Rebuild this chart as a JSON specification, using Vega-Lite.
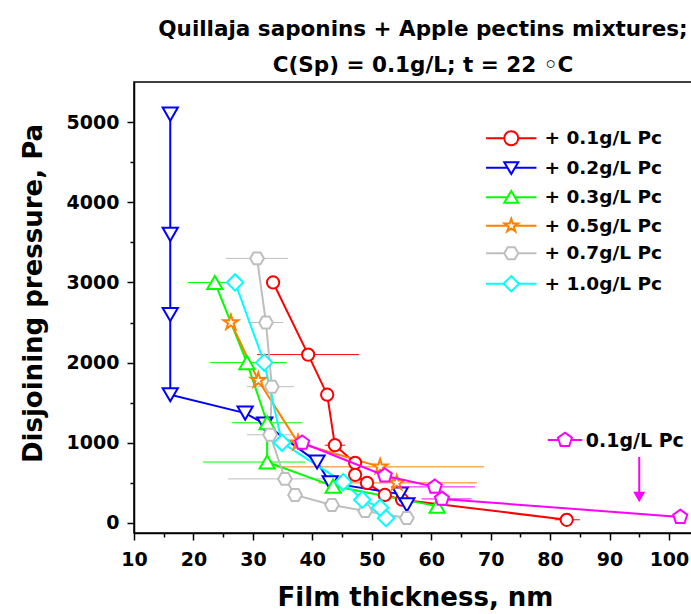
{
  "$schema": "https://vega.github.io/schema/vega-lite/v6.json",
  "autosize": {"type": "none"},
  "padding": {"left": 134, "top": 82, "right": -5, "bottom": 81},
  "width": 562,
  "height": 451,
  "background": "white",
  "title": {
    "text": ["Quillaja saponins + Apple pectins mixtures;", "C(Sp) = 0.1g/L; t = 22 ◦C"],
    "font": "DejaVu Sans", "fontSize": 21.5, "fontWeight": "bold", "color": "black",
    "anchor": "middle", "frame": "group", "baseline": "bottom", "lineHeight": 36, "offset": -16, "dx": 8
  },
  "config": {
    "view": {"stroke": "black", "strokeWidth": 1.5},
    "axis": {
      "labelFont": "DejaVu Sans", "labelFontWeight": "bold", "labelFontSize": 19, "labelColor": "black",
      "titleFont": "DejaVu Sans", "titleFontWeight": "bold", "titleFontSize": 26, "titleColor": "black",
      "domainColor": "black", "domainWidth": 1.5, "tickColor": "black", "tickWidth": 1.5, "grid": false,
      "labelOverlap": false, "labelFlush": false
    }
  },
  "datasets": {
    "main": [
      {"s": "+ 0.1g/L Pc", "i": 1, "x": 33.4, "y": 3000},
      {"s": "+ 0.1g/L Pc", "i": 2, "x": 39.3, "y": 2100, "xlo": 30.7, "xhi": 47.9},
      {"s": "+ 0.1g/L Pc", "i": 3, "x": 42.5, "y": 1600},
      {"s": "+ 0.1g/L Pc", "i": 4, "x": 43.8, "y": 970, "xlo": 42.1, "xhi": 45.5},
      {"s": "+ 0.1g/L Pc", "i": 5, "x": 47.2, "y": 750},
      {"s": "+ 0.1g/L Pc", "i": 6, "x": 47.2, "y": 600},
      {"s": "+ 0.1g/L Pc", "i": 7, "x": 49.2, "y": 500},
      {"s": "+ 0.1g/L Pc", "i": 8, "x": 52.2, "y": 350},
      {"s": "+ 0.1g/L Pc", "i": 9, "x": 55.1, "y": 290},
      {"s": "+ 0.1g/L Pc", "i": 10, "x": 82.8, "y": 40, "xlo": 80.8, "xhi": 85.0},
      {"s": "+ 0.2g/L Pc", "i": 1, "x": 16.1, "y": 5100},
      {"s": "+ 0.2g/L Pc", "i": 2, "x": 16.1, "y": 3600},
      {"s": "+ 0.2g/L Pc", "i": 3, "x": 16.1, "y": 2600},
      {"s": "+ 0.2g/L Pc", "i": 4, "x": 16.1, "y": 1600},
      {"s": "+ 0.2g/L Pc", "i": 5, "x": 28.7, "y": 1370},
      {"s": "+ 0.2g/L Pc", "i": 6, "x": 32.0, "y": 1235},
      {"s": "+ 0.2g/L Pc", "i": 7, "x": 40.8, "y": 760},
      {"s": "+ 0.2g/L Pc", "i": 8, "x": 43.0, "y": 500},
      {"s": "+ 0.2g/L Pc", "i": 9, "x": 54.8, "y": 360},
      {"s": "+ 0.2g/L Pc", "i": 10, "x": 55.9, "y": 225},
      {"s": "+ 0.3g/L Pc", "i": 1, "x": 23.6, "y": 3000, "xlo": 19.1, "xhi": 28.3},
      {"s": "+ 0.3g/L Pc", "i": 2, "x": 29.0, "y": 2000, "xlo": 22.8, "xhi": 35.7},
      {"s": "+ 0.3g/L Pc", "i": 3, "x": 32.4, "y": 1250, "xlo": 26.5, "xhi": 38.3},
      {"s": "+ 0.3g/L Pc", "i": 4, "x": 32.4, "y": 760, "xlo": 21.6, "xhi": 38.8},
      {"s": "+ 0.3g/L Pc", "i": 5, "x": 43.5, "y": 460},
      {"s": "+ 0.3g/L Pc", "i": 6, "x": 61.0, "y": 210},
      {"s": "+ 0.5g/L Pc", "i": 1, "x": 26.3, "y": 2500},
      {"s": "+ 0.5g/L Pc", "i": 2, "x": 30.9, "y": 1780},
      {"s": "+ 0.5g/L Pc", "i": 3, "x": 37.6, "y": 1000},
      {"s": "+ 0.5g/L Pc", "i": 4, "x": 51.4, "y": 700, "xlo": 33.7, "xhi": 68.9},
      {"s": "+ 0.5g/L Pc", "i": 5, "x": 54.2, "y": 500, "xlo": 41.0, "xhi": 67.7},
      {"s": "+ 0.7g/L Pc", "i": 1, "x": 30.7, "y": 3300, "xlo": 25.5, "xhi": 35.9},
      {"s": "+ 0.7g/L Pc", "i": 2, "x": 32.2, "y": 2500, "xlo": 29.2, "xhi": 35.1},
      {"s": "+ 0.7g/L Pc", "i": 3, "x": 33.2, "y": 1700, "xlo": 29.0, "xhi": 36.9},
      {"s": "+ 0.7g/L Pc", "i": 4, "x": 32.9, "y": 1100, "xlo": 29.0, "xhi": 36.7},
      {"s": "+ 0.7g/L Pc", "i": 5, "x": 35.4, "y": 550, "xlo": 25.8, "xhi": 45.0},
      {"s": "+ 0.7g/L Pc", "i": 6, "x": 37.1, "y": 350},
      {"s": "+ 0.7g/L Pc", "i": 7, "x": 43.3, "y": 225},
      {"s": "+ 0.7g/L Pc", "i": 8, "x": 48.9, "y": 150},
      {"s": "+ 0.7g/L Pc", "i": 9, "x": 55.9, "y": 62},
      {"s": "+ 1.0g/L Pc", "i": 1, "x": 27.0, "y": 3000},
      {"s": "+ 1.0g/L Pc", "i": 2, "x": 31.9, "y": 2000},
      {"s": "+ 1.0g/L Pc", "i": 3, "x": 34.9, "y": 1000},
      {"s": "+ 1.0g/L Pc", "i": 4, "x": 45.2, "y": 510},
      {"s": "+ 1.0g/L Pc", "i": 5, "x": 48.4, "y": 290},
      {"s": "+ 1.0g/L Pc", "i": 6, "x": 51.4, "y": 190},
      {"s": "+ 1.0g/L Pc", "i": 7, "x": 52.4, "y": 60}
    ],
    "legendrows": [
      {"s": "+ 0.1g/L Pc"},
      {"s": "+ 0.2g/L Pc"},
      {"s": "+ 0.3g/L Pc"},
      {"s": "+ 0.5g/L Pc"},
      {"s": "+ 0.7g/L Pc"},
      {"s": "+ 1.0g/L Pc"}
    ],
    "pink": [
      {"i": 1, "x": 38.3, "y": 1000},
      {"i": 2, "x": 52.2, "y": 590},
      {"i": 3, "x": 60.6, "y": 450, "xlo": 54.2, "xhi": 67.4},
      {"i": 4, "x": 61.8, "y": 300, "xlo": 58.4, "xhi": 66.8},
      {"i": 5, "x": 101.9, "y": 75}
    ],
    "annoline": [
      {"x": 79.6, "y": 1035},
      {"x": 85.4, "y": 1035}
    ],
    "annopoint": [
      {"x": 82.5, "y": 1035}
    ],
    "annotext": [
      {"x": 86.0, "y": 1022, "label": "0.1g/L Pc"}
    ],
    "arrowhead": [
      {"x": 95.0, "y": 324}
    ],
    "arrow": [
      {"x": 95.0, "y": 823, "y2": 380}
    ]
  },
  "layer": [
    {
      "layer": [
        {
          "data": {"name": "main"},
          "transform": [{"filter": "isValid(datum.xlo)"}],
          "mark": {"type": "rule", "strokeWidth": 1},
          "encoding": {
            "x": {"field": "xlo", "type": "quantitative", "scale": {"domain": [10, 104.55], "nice": false, "zero": false},
                  "axis": {"values": [10, 20, 30, 40, 50, 60, 70, 80, 90, 100], "tickSize": 7, "labelPadding": 10, "title": "Film thickness, nm", "titleY": 72, "titleBaseline": "alphabetic"}},
            "x2": {"field": "xhi"},
            "y": {"field": "y", "type": "quantitative", "scale": {"domain": [-125, 5500], "nice": false, "zero": false},
                  "axis": {"values": [0, 1000, 2000, 3000, 4000, 5000], "format": "d", "tickSize": 7, "labelPadding": 8, "title": "Disjoining pressure, Pa", "titleX": -93, "titleY": 211, "titleBaseline": "alphabetic"}},
            "color": {"field": "s", "type": "nominal",
                      "scale": {"domain": ["+ 0.1g/L Pc", "+ 0.2g/L Pc", "+ 0.3g/L Pc", "+ 0.5g/L Pc", "+ 0.7g/L Pc", "+ 1.0g/L Pc"],
                                "range": ["#FF0000", "#0000FF", "#00FF00", "#FF8000", "#BEBEBE", "#00FFFF"]}}
          }
        },
        {
          "data": {"name": "main"},
          "mark": {"type": "line", "strokeWidth": 2},
          "encoding": {
            "x": {"field": "x", "type": "quantitative", "scale": {"domain": [10, 104.55], "nice": false, "zero": false},
                  "axis": {"values": [10, 20, 30, 40, 50, 60, 70, 80, 90, 100], "tickSize": 7, "labelPadding": 10, "title": "Film thickness, nm", "titleY": 72, "titleBaseline": "alphabetic"}},
            "y": {"field": "y", "type": "quantitative", "scale": {"domain": [-125, 5500], "nice": false, "zero": false},
                  "axis": {"values": [0, 1000, 2000, 3000, 4000, 5000], "format": "d", "tickSize": 7, "labelPadding": 8, "title": "Disjoining pressure, Pa", "titleX": -93, "titleY": 211, "titleBaseline": "alphabetic"}},
            "color": {"field": "s", "type": "nominal"},
            "order": {"field": "i", "type": "quantitative"}
          }
        },
        {
          "data": {"name": "main"},
          "mark": {"type": "point", "filled": false, "fill": "white", "strokeWidth": 2, "opacity": 1,
                   "shape": {"expr": "datum.s === '+ 0.1g/L Pc' ? 'circle' : datum.s === '+ 0.2g/L Pc' ? 'triangle-down' : datum.s === '+ 0.3g/L Pc' ? 'triangle-up' : datum.s === '+ 0.5g/L Pc' ? 'M0,-1L0.223,-0.307L0.951,-0.309L0.361,0.117L0.588,0.809L0,0.38L-0.588,0.809L-0.361,0.117L-0.951,-0.309L-0.223,-0.307Z' : datum.s === '+ 0.7g/L Pc' ? 'M-1,0L-0.5,-0.866L0.5,-0.866L1,0L0.5,0.866L-0.5,0.866Z' : 'diamond'"},
                   "size": {"expr": "datum.s === '+ 0.1g/L Pc' ? 150 : datum.s === '+ 0.2g/L Pc' ? 230 : datum.s === '+ 0.3g/L Pc' ? 230 : datum.s === '+ 0.5g/L Pc' ? 240 : datum.s === '+ 0.7g/L Pc' ? 190 : 270"}},
          "encoding": {
            "x": {"field": "x", "type": "quantitative", "scale": {"domain": [10, 104.55], "nice": false, "zero": false},
                  "axis": {"values": [10, 20, 30, 40, 50, 60, 70, 80, 90, 100], "tickSize": 7, "labelPadding": 10, "title": "Film thickness, nm", "titleY": 72, "titleBaseline": "alphabetic"}},
            "y": {"field": "y", "type": "quantitative", "scale": {"domain": [-125, 5500], "nice": false, "zero": false},
                  "axis": {"values": [0, 1000, 2000, 3000, 4000, 5000], "format": "d", "tickSize": 7, "labelPadding": 8, "title": "Disjoining pressure, Pa", "titleX": -93, "titleY": 211, "titleBaseline": "alphabetic"}},
            "color": {"field": "s", "type": "nominal"}
          }
        },
        {
          "data": {"name": "legendrows"},
          "mark": {"type": "point", "filled": false, "strokeWidth": 2, "opacity": 0},
          "encoding": {
            "color": {"field": "s", "type": "nominal",
                      "legend": {"title": null, "orient": "none", "legendX": 368, "legendY": 47, "padding": 0,
                                 "symbolSize": 196, "labelOffset": 24, "rowPadding": 7.5,
                                 "labelFont": "DejaVu Sans", "labelFontSize": 18.5, "labelFontWeight": "bold", "labelColor": "black", "labelLimit": 0,
                                 "symbolStrokeWidth": 2, "symbolFillColor": "white", "symbolOpacity": 1}},
            "shape": {"field": "s", "type": "nominal",
                      "scale": {"domain": ["+ 0.1g/L Pc", "+ 0.2g/L Pc", "+ 0.3g/L Pc", "+ 0.5g/L Pc", "+ 0.7g/L Pc", "+ 1.0g/L Pc"],
                                "range": ["M-3.6,0H-1M1,0H3.6M1,0A1,1,0,1,1,-1,0A1,1,0,1,1,1,0Z",
                                          "M-3.6,0H-0.5M0.5,0H3.6M-1,-0.8L1,-0.8L0,0.9Z",
                                          "M-3.6,0H-0.55M0.55,0H3.6M0,-0.9L1,0.8L-1,0.8Z",
                                          "M-3.6,0H-0.52M0.52,0H3.6M0,-1L0.223,-0.307L0.951,-0.309L0.361,0.117L0.588,0.809L0,0.38L-0.588,0.809L-0.361,0.117L-0.951,-0.309L-0.223,-0.307Z",
                                          "M-3.6,0H-1M1,0H3.6M-1,0L-0.5,-0.866L0.5,-0.866L1,0L0.5,0.866L-0.5,0.866Z",
                                          "M-3.6,0H-1.1M1.1,0H3.6M-1.1,0L0,-1.1L1.1,0L0,1.1Z"]},
                      "legend": {"title": null, "orient": "none", "legendX": 368, "legendY": 47, "padding": 0,
                                 "symbolSize": 196, "labelOffset": 24, "rowPadding": 7.5,
                                 "labelFont": "DejaVu Sans", "labelFontSize": 18.5, "labelFontWeight": "bold", "labelColor": "black", "labelLimit": 0,
                                 "symbolStrokeWidth": 2, "symbolFillColor": "white", "symbolOpacity": 1}}
          }
        },
        {
          "data": {"name": "pink"},
          "transform": [{"filter": "isValid(datum.xlo)"}],
          "mark": {"type": "rule", "strokeWidth": 1, "color": "#FF00FF"},
          "encoding": {
            "x": {"field": "xlo", "type": "quantitative", "scale": {"domain": [10, 104.55], "nice": false, "zero": false},
                  "axis": {"values": [10, 20, 30, 40, 50, 60, 70, 80, 90, 100], "tickSize": 7, "labelPadding": 10, "title": "Film thickness, nm", "titleY": 72, "titleBaseline": "alphabetic"}},
            "x2": {"field": "xhi"},
            "y": {"field": "y", "type": "quantitative", "scale": {"domain": [-125, 5500], "nice": false, "zero": false},
                  "axis": {"values": [0, 1000, 2000, 3000, 4000, 5000], "format": "d", "tickSize": 7, "labelPadding": 8, "title": "Disjoining pressure, Pa", "titleX": -93, "titleY": 211, "titleBaseline": "alphabetic"}}
          }
        },
        {
          "data": {"name": "pink"},
          "mark": {"type": "line", "strokeWidth": 2, "color": "#FF00FF"},
          "encoding": {
            "x": {"field": "x", "type": "quantitative", "scale": {"domain": [10, 104.55], "nice": false, "zero": false},
                  "axis": {"values": [10, 20, 30, 40, 50, 60, 70, 80, 90, 100], "tickSize": 7, "labelPadding": 10, "title": "Film thickness, nm", "titleY": 72, "titleBaseline": "alphabetic"}},
            "y": {"field": "y", "type": "quantitative", "scale": {"domain": [-125, 5500], "nice": false, "zero": false},
                  "axis": {"values": [0, 1000, 2000, 3000, 4000, 5000], "format": "d", "tickSize": 7, "labelPadding": 8, "title": "Disjoining pressure, Pa", "titleX": -93, "titleY": 211, "titleBaseline": "alphabetic"}},
            "order": {"field": "i", "type": "quantitative"}
          }
        },
        {
          "data": {"name": "pink"},
          "mark": {"type": "point", "filled": false, "fill": "white", "stroke": "#FF00FF", "strokeWidth": 2, "opacity": 1, "size": 216,
                   "shape": "M0,-1L0.951,-0.309L0.588,0.809L-0.588,0.809L-0.951,-0.309Z"},
          "encoding": {
            "x": {"field": "x", "type": "quantitative", "scale": {"domain": [10, 104.55], "nice": false, "zero": false},
                  "axis": {"values": [10, 20, 30, 40, 50, 60, 70, 80, 90, 100], "tickSize": 7, "labelPadding": 10, "title": "Film thickness, nm", "titleY": 72, "titleBaseline": "alphabetic"}},
            "y": {"field": "y", "type": "quantitative", "scale": {"domain": [-125, 5500], "nice": false, "zero": false},
                  "axis": {"values": [0, 1000, 2000, 3000, 4000, 5000], "format": "d", "tickSize": 7, "labelPadding": 8, "title": "Disjoining pressure, Pa", "titleX": -93, "titleY": 211, "titleBaseline": "alphabetic"}}
          }
        },
        {
          "data": {"name": "annoline"},
          "mark": {"type": "line", "strokeWidth": 2, "color": "#FF00FF"},
          "encoding": {
            "x": {"field": "x", "type": "quantitative", "scale": {"domain": [10, 104.55], "nice": false, "zero": false},
                  "axis": {"values": [10, 20, 30, 40, 50, 60, 70, 80, 90, 100], "tickSize": 7, "labelPadding": 10, "title": "Film thickness, nm", "titleY": 72, "titleBaseline": "alphabetic"}},
            "y": {"field": "y", "type": "quantitative", "scale": {"domain": [-125, 5500], "nice": false, "zero": false},
                  "axis": {"values": [0, 1000, 2000, 3000, 4000, 5000], "format": "d", "tickSize": 7, "labelPadding": 8, "title": "Disjoining pressure, Pa", "titleX": -93, "titleY": 211, "titleBaseline": "alphabetic"}}
          }
        },
        {
          "data": {"name": "annopoint"},
          "mark": {"type": "point", "filled": false, "fill": "white", "stroke": "#FF00FF", "strokeWidth": 2, "opacity": 1, "size": 216,
                   "shape": "M0,-1L0.951,-0.309L0.588,0.809L-0.588,0.809L-0.951,-0.309Z"},
          "encoding": {
            "x": {"field": "x", "type": "quantitative", "scale": {"domain": [10, 104.55], "nice": false, "zero": false},
                  "axis": {"values": [10, 20, 30, 40, 50, 60, 70, 80, 90, 100], "tickSize": 7, "labelPadding": 10, "title": "Film thickness, nm", "titleY": 72, "titleBaseline": "alphabetic"}},
            "y": {"field": "y", "type": "quantitative", "scale": {"domain": [-125, 5500], "nice": false, "zero": false},
                  "axis": {"values": [0, 1000, 2000, 3000, 4000, 5000], "format": "d", "tickSize": 7, "labelPadding": 8, "title": "Disjoining pressure, Pa", "titleX": -93, "titleY": 211, "titleBaseline": "alphabetic"}}
          }
        },
        {
          "data": {"name": "annotext"},
          "mark": {"type": "text", "align": "left", "baseline": "middle", "font": "DejaVu Sans", "fontSize": 19, "fontWeight": "bold", "color": "black"},
          "encoding": {
            "x": {"field": "x", "type": "quantitative", "scale": {"domain": [10, 104.55], "nice": false, "zero": false},
                  "axis": {"values": [10, 20, 30, 40, 50, 60, 70, 80, 90, 100], "tickSize": 7, "labelPadding": 10, "title": "Film thickness, nm", "titleY": 72, "titleBaseline": "alphabetic"}},
            "y": {"field": "y", "type": "quantitative", "scale": {"domain": [-125, 5500], "nice": false, "zero": false},
                  "axis": {"values": [0, 1000, 2000, 3000, 4000, 5000], "format": "d", "tickSize": 7, "labelPadding": 8, "title": "Disjoining pressure, Pa", "titleX": -93, "titleY": 211, "titleBaseline": "alphabetic"}},
            "text": {"field": "label", "type": "nominal"}
          }
        },
        {
          "data": {"name": "arrowhead"},
          "mark": {"type": "point", "filled": true, "color": "#FF00FF", "opacity": 1, "size": 144, "shape": "triangle-down"},
          "encoding": {
            "x": {"field": "x", "type": "quantitative", "scale": {"domain": [10, 104.55], "nice": false, "zero": false},
                  "axis": {"values": [10, 20, 30, 40, 50, 60, 70, 80, 90, 100], "tickSize": 7, "labelPadding": 10, "title": "Film thickness, nm", "titleY": 72, "titleBaseline": "alphabetic"}},
            "y": {"field": "y", "type": "quantitative", "scale": {"domain": [-125, 5500], "nice": false, "zero": false},
                  "axis": {"values": [0, 1000, 2000, 3000, 4000, 5000], "format": "d", "tickSize": 7, "labelPadding": 8, "title": "Disjoining pressure, Pa", "titleX": -93, "titleY": 211, "titleBaseline": "alphabetic"}}
          }
        }
      ]
    },
    {
      "data": {"name": "arrow"},
      "mark": {"type": "rule", "strokeWidth": 2, "color": "#FF00FF"},
      "encoding": {
        "x": {"field": "x", "type": "quantitative", "scale": {"domain": [10, 104.55], "nice": false, "zero": false},
              "axis": {"orient": "bottom", "values": [15, 25, 35, 45, 55, 65, 75, 85, 95], "labels": false, "domain": false, "tickSize": 4, "title": null}},
        "y": {"field": "y", "type": "quantitative", "scale": {"domain": [-125, 5500], "nice": false, "zero": false},
              "axis": {"orient": "left", "values": [500, 1500, 2500, 3500, 4500], "labels": false, "domain": false, "tickSize": 4, "title": null}},
        "y2": {"field": "y2"}
      }
    }
  ],
  "resolve": {"axis": {"x": "independent", "y": "independent"}}
}
